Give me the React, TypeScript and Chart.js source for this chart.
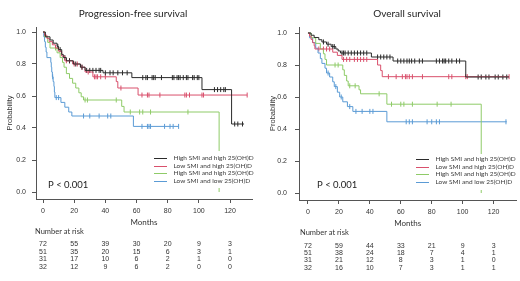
import React, { useEffect, useRef } from "react";
import { Chart, registerables } from "chart.js";

Chart.register(...registerables);

// ---------- shared ----------
const X_TICKS = [0, 20, 40, 60, 80, 100, 120];
const Y_TICKS = [0, 0.2, 0.4, 0.6, 0.8, 1.0];
const GROUP_LABELS = [
  "High SMI and high 25(OH)D",
  "Low SMI and high 25(OH)D",
  "High SMI and high 25(OH)D",
  "Low SMI and low 25(OH)D",
];
const GROUP_COLORS = ["#2b2b2b", "#d9506c", "#8fcb68", "#5b9bd5"];
const P_TEXT = "P < 0.001";

// ---------- Progression-free survival ----------
const PFS_TITLE = "Progression-free survival";
const pfsBlackTimes = [1.5, 4.5, 6.5, 9, 10, 12, 13, 15, 19.5, 24, 27, 38.5, 57, 102, 121];
const pfsBlackSurv = [0.97, 0.95, 0.93, 0.91, 0.89, 0.86, 0.84, 0.82, 0.8, 0.78, 0.76, 0.745, 0.715, 0.64, 0.425];
const pfsBlackCensor = [9.5, 11, 14, 17, 21, 25, 28, 30, 32, 34, 36, 37, 40, 43, 45, 48, 51, 54, 64, 66, 67, 70, 71, 72, 76, 83, 84, 86, 87, 88, 90, 92, 93, 96, 97, 99, 100, 110, 112, 114, 116, 117, 123, 125, 128];
const pfsBlackEnd = 129;

const pfsRedTimes = [1, 2.5, 4, 6, 8, 10, 12, 14, 19, 24, 27, 32, 47, 48, 61];
const pfsRedSurv = [0.98, 0.96, 0.94, 0.92, 0.9, 0.88, 0.85, 0.82, 0.8, 0.78, 0.75, 0.72, 0.69, 0.65, 0.606];
const pfsRedCensor = [15, 17, 20, 22, 25, 29, 33, 34, 35, 37, 40, 50, 63.5, 67, 68, 75, 91, 92, 94, 102, 103, 131];
const pfsRedEnd = 131;

const pfsGreenTimes = [1, 3, 4.5, 9, 11, 12.5, 13.5, 15, 17, 19, 21, 23, 24.5, 26, 50.5, 52, 113];
const pfsGreenSurv = [0.97, 0.935, 0.9, 0.87, 0.84, 0.81, 0.78, 0.74, 0.71, 0.68, 0.65, 0.62, 0.595, 0.575, 0.535, 0.5, 0];
const pfsGreenCensor = [8, 27, 28.5, 47, 56, 62, 64, 69, 93];
const pfsGreenEnd = 113;

const pfsBlueTimes = [0.5, 1, 1.5, 2, 2.5, 5, 5.3, 5.6, 6, 6.5, 7, 7.3, 7.6, 11.5, 14, 16.5, 18.5, 58];
const pfsBlueSurv = [0.97, 0.94, 0.905, 0.875, 0.84, 0.81, 0.78, 0.75, 0.72, 0.69, 0.66, 0.625, 0.59, 0.56, 0.53, 0.5, 0.475, 0.41];
const pfsBlueCensor = [6.2, 8.5, 10, 26, 30, 36, 41.5, 43.5, 63.5, 67, 68, 69, 78, 81.5, 83.5, 87];
const pfsBlueEnd = 87;

const pfsRisk1 = [72, 55, 39, 30, 20, 9, 3];
const pfsRisk2 = [51, 35, 20, 15, 6, 3, 1];
const pfsRisk3 = [31, 17, 10, 6, 2, 1, 0];
const pfsRisk4 = [32, 12, 9, 6, 2, 0, 0];

// ---------- Overall survival ----------
const OS_TITLE = "Overall survival";
const osBlackTimes = [2, 4, 7, 9, 12, 15, 18, 19.5, 21, 41, 55, 102];
const osBlackSurv = [0.986, 0.972, 0.958, 0.944, 0.93, 0.915, 0.9, 0.888, 0.875, 0.85, 0.825, 0.725];
const osBlackCensor = [10, 13, 16, 17, 22, 23, 24, 26, 28, 30, 32, 34, 36, 38, 45, 47, 49, 51, 53, 58, 60, 62, 64, 65.5, 67, 69, 72, 74, 83, 85, 87, 88, 89, 91, 93, 96, 98, 110, 112, 115, 117, 121, 123, 126, 128.5];
const osBlackEnd = 130;

const osRedTimes = [1, 2, 3, 4, 4.5, 16, 19, 22, 45, 47, 48];
const osRedSurv = [0.98, 0.96, 0.94, 0.92, 0.9, 0.88, 0.86, 0.835, 0.8, 0.765, 0.727];
const osRedCensor = [7, 10, 12, 14, 23, 25, 27, 30, 32, 34, 36, 38, 52, 57, 61, 63, 64, 65.5, 67.5, 74, 91, 93, 102, 103, 130];
const osRedEnd = 130;

const osGreenTimes = [2, 5, 8, 10, 11, 12, 22.5, 23.5, 25, 26, 33, 34, 51, 112];
const osGreenSurv = [0.97, 0.935, 0.9, 0.87, 0.835, 0.8, 0.77, 0.735, 0.7, 0.67, 0.645, 0.62, 0.555, 0];
const osGreenCensor = [17.5, 19.5, 27, 30.5, 46, 54, 60, 62, 67.5, 83.5, 92.5];
const osGreenEnd = 112;

const osBlueTimes = [1, 3, 5, 6.5, 8, 9, 11, 12, 14, 16, 17, 19, 20.5, 22.5, 25.5, 29, 51];
const osBlueSurv = [0.97, 0.94, 0.905, 0.875, 0.84, 0.81, 0.78, 0.75, 0.725, 0.695, 0.665, 0.63, 0.6, 0.57, 0.54, 0.51, 0.445];
const osBlueCensor = [13, 18, 21.5, 27, 31, 35, 40, 42, 63.5, 65.5, 67.5, 77, 80, 83, 85, 128];
const osBlueEnd = 128.5;

const osRisk1 = [72, 59, 44, 33, 21, 9, 3];
const osRisk2 = [51, 38, 24, 18, 7, 4, 1];
const osRisk3 = [31, 21, 12, 8, 3, 1, 0];
const osRisk4 = [32, 16, 10, 7, 3, 1, 1];

// ---------- helpers ----------
type Curve = { times: number[]; surv: number[]; censor: number[]; end: number };

function survAt(c: Curve, t: number) {
  let s = 1;
  for (let i = 0; i < c.times.length; i++) if (c.times[i] <= t) s = c.surv[i];
  return s;
}

function curvePoints(c: Curve) {
  const pts = [{ x: 0, y: 1 }];
  c.times.forEach((t, i) => pts.push({ x: t, y: c.surv[i] }));
  const lastT = c.times[c.times.length - 1];
  if (c.end > lastT) pts.push({ x: c.end, y: c.surv[c.surv.length - 1] });
  return pts;
}

type Panel = {
  title: string;
  curves: Curve[];
  risk: number[][];
  left: number;
  titleX: number;
  yWidth: number;
  xHeight: number;
  padRight: number;
  padBottom: number;
  xMin: number;
  xMax: number;
  yMin: number;
  yMax: number;
  yTitlePad: number;
  yTickPad: number;
  pX: number;
  legendLineX: number;
  legendTextX: number;
  legendY0: number;
  legendBox: [number, number, number, number];
  riskTitleX: number;
  riskTitleY: number;
  riskY0: number;
  riskStep: number;
};

const pfsPanel: Panel = {
  title: PFS_TITLE,
  curves: [
    { times: pfsBlackTimes, surv: pfsBlackSurv, censor: pfsBlackCensor, end: pfsBlackEnd },
    { times: pfsRedTimes, surv: pfsRedSurv, censor: pfsRedCensor, end: pfsRedEnd },
    { times: pfsGreenTimes, surv: pfsGreenSurv, censor: pfsGreenCensor, end: pfsGreenEnd },
    { times: pfsBlueTimes, surv: pfsBlueSurv, censor: pfsBlueCensor, end: pfsBlueEnd },
  ],
  risk: [pfsRisk1, pfsRisk2, pfsRisk3, pfsRisk4],
  left: 0,
  titleX: 133,
  yWidth: 36,
  xHeight: 30,
  padRight: 8,
  padBottom: 52,
  xMin: -4.5,
  xMax: 134.1,
  yMin: -0.04375,
  yMax: 1.03125,
  yTitlePad: 5.5,
  yTickPad: 6,
  pX: 48,
  legendLineX: 154,
  legendTextX: 173.5,
  legendY0: 158,
  legendBox: [149, 151, 104, 37],
  riskTitleX: 35,
  riskTitleY: 232,
  riskY0: 244.3,
  riskStep: 7.5,
};

const osPanel: Panel = {
  title: OS_TITLE,
  curves: [
    { times: osBlackTimes, surv: osBlackSurv, censor: osBlackCensor, end: osBlackEnd },
    { times: osRedTimes, surv: osRedSurv, censor: osRedCensor, end: osRedEnd },
    { times: osGreenTimes, surv: osGreenSurv, censor: osGreenCensor, end: osGreenEnd },
    { times: osBlueTimes, surv: osBlueSurv, censor: osBlueCensor, end: osBlueEnd },
  ],
  risk: [osRisk1, osRisk2, osRisk3, osRisk4],
  left: 260,
  titleX: 147,
  yWidth: 39,
  xHeight: 30,
  padRight: 2,
  padBottom: 51,
  xMin: -5.8,
  xMax: 134.8,
  yMin: -0.04375,
  yMax: 1.0375,
  yTitlePad: 8.5,
  yTickPad: 8,
  pX: 57,
  legendLineX: 156,
  legendTextX: 175.5,
  legendY0: 159,
  legendBox: [150, 154, 106, 36],
  riskTitleX: 40,
  riskTitleY: 233,
  riskY0: 245.6,
  riskStep: 7.4,
};

const TEXT_FONT = "Lato, 'Open Sans', sans-serif";
const NUM_FONT = "'Liberation Sans', Arial, sans-serif";

function makePlugin(p: Panel) {
  return {
    id: "kmOverlay",
    afterDatasetsDraw(chart: any) {
      const ctx = chart.ctx;
      ctx.save();
      const [bx, by, bw, bh] = p.legendBox;
      ctx.fillStyle = "#ffffff";
      ctx.fillRect(bx, by, bw, bh);
      ctx.font = `6.5px ${TEXT_FONT}`;
      ctx.textBaseline = "middle";
      ctx.textAlign = "left";
      GROUP_LABELS.forEach((lab, i) => {
        const y = p.legendY0 + i * 7.7;
        ctx.strokeStyle = GROUP_COLORS[i];
        ctx.lineWidth = 1;
        ctx.beginPath();
        ctx.moveTo(p.legendLineX, Math.round(y) + 0.5);
        ctx.lineTo(p.legendLineX + 13, Math.round(y) + 0.5);
        ctx.stroke();
        ctx.fillStyle = "#3a3a3a";
        ctx.fillText(lab, p.legendTextX, y);
      });
      ctx.font = `9.5px ${TEXT_FONT}`;
      ctx.fillStyle = "#222";
      ctx.fillText(P_TEXT, p.pX, 185);
      ctx.restore();
    },
    afterDraw(chart: any) {
      const ctx = chart.ctx;
      const xs = chart.scales.x;
      ctx.save();
      ctx.fillStyle = "#222";
      ctx.textBaseline = "middle";
      ctx.textAlign = "center";
      ctx.font = `10px ${TEXT_FONT}`;
      ctx.fillText(p.title, p.titleX, 13.5);
      ctx.textAlign = "left";
      ctx.font = `7.5px ${TEXT_FONT}`;
      ctx.fillStyle = "#333";
      ctx.fillText("Number at risk", p.riskTitleX, p.riskTitleY);
      ctx.textAlign = "center";
      ctx.font = `7px ${NUM_FONT}`;
      p.risk.forEach((row, r) => {
        row.forEach((v, j) => {
          ctx.fillText(String(v), xs.getPixelForValue(X_TICKS[j]), p.riskY0 + r * p.riskStep);
        });
      });
      ctx.restore();
    },
  };
}

function makeConfig(p: Panel): any {
  const datasets: any[] = [];
  p.curves.forEach((c, i) => {
    datasets.push({
      data: curvePoints(c),
      borderColor: GROUP_COLORS[i],
      borderWidth: 1,
      stepped: true,
      pointRadius: 0,
      fill: false,
      tension: 0,
    });
  });
  p.curves.forEach((c, i) => {
    datasets.push({
      data: c.censor.map((t) => ({ x: t, y: survAt(c, t) })),
      showLine: false,
      borderColor: GROUP_COLORS[i],
      backgroundColor: GROUP_COLORS[i],
      pointStyle: "line",
      pointRotation: 90,
      pointRadius: 2.5,
      pointBorderWidth: 1,
      pointHoverRadius: 2.5,
    });
  });
  const axisColor = "#555";
  return {
    type: "line",
    data: { datasets },
    plugins: [makePlugin(p)],
    options: {
      animation: false,
      responsive: false,
      devicePixelRatio: 1,
      events: [],
      layout: { padding: { left: 0, right: p.padRight, top: 27, bottom: p.padBottom } },
      plugins: { legend: { display: false }, tooltip: { enabled: false }, title: { display: false } },
      scales: {
        x: {
          type: "linear",
          min: p.xMin,
          max: p.xMax,
          afterBuildTicks: (s: any) => {
            s.ticks = X_TICKS.map((v) => ({ value: v }));
          },
          afterFit: (s: any) => {
            s.height = p.xHeight;
          },
          grid: { drawOnChartArea: false, drawTicks: true, tickLength: 4, color: axisColor, lineWidth: 1 },
          border: { display: true, color: axisColor, width: 1 },
          ticks: {
            autoSkip: false,
            maxRotation: 0,
            padding: 4,
            color: "#333",
            font: { family: NUM_FONT, size: 7 },
            callback: (v: any) => String(v),
          },
          title: {
            display: true,
            text: "Months",
            color: "#333",
            font: { family: TEXT_FONT, size: 8 },
            padding: { top: 0, bottom: 2.2 },
          },
        },
        y: {
          type: "linear",
          min: p.yMin,
          max: p.yMax,
          afterBuildTicks: (s: any) => {
            s.ticks = Y_TICKS.map((v) => ({ value: v }));
          },
          afterFit: (s: any) => {
            s.width = p.yWidth;
          },
          grid: { drawOnChartArea: false, drawTicks: true, tickLength: 4, color: axisColor, lineWidth: 1 },
          border: { display: true, color: axisColor, width: 1 },
          ticks: {
            autoSkip: false,
            padding: p.yTickPad,
            color: "#333",
            font: { family: NUM_FONT, size: 7 },
            callback: (v: any) => Number(v).toFixed(1),
          },
          title: {
            display: true,
            text: "Probability",
            color: "#333",
            font: { family: NUM_FONT, size: 7.5 },
            padding: { top: p.yTitlePad, bottom: 0 },
          },
        },
      },
    },
  };
}

function KMPanel({ panel }: { panel: Panel }) {
  const ref = useRef<HTMLCanvasElement | null>(null);
  useEffect(() => {
    if (!ref.current) return;
    const chart = new Chart(ref.current, makeConfig(panel));
    return () => chart.destroy();
  }, [panel]);
  return (
    <canvas
      ref={ref}
      width={260}
      height={281}
      style={{ position: "absolute", left: panel.left, top: 0, width: 260, height: 281 }}
    />
  );
}

export default function App() {
  return (
    <div style={{ position: "fixed", left: 0, top: 0, width: 520, height: 281, background: "#ffffff" }}>
      <KMPanel panel={pfsPanel} />
      <KMPanel panel={osPanel} />
    </div>
  );
}
